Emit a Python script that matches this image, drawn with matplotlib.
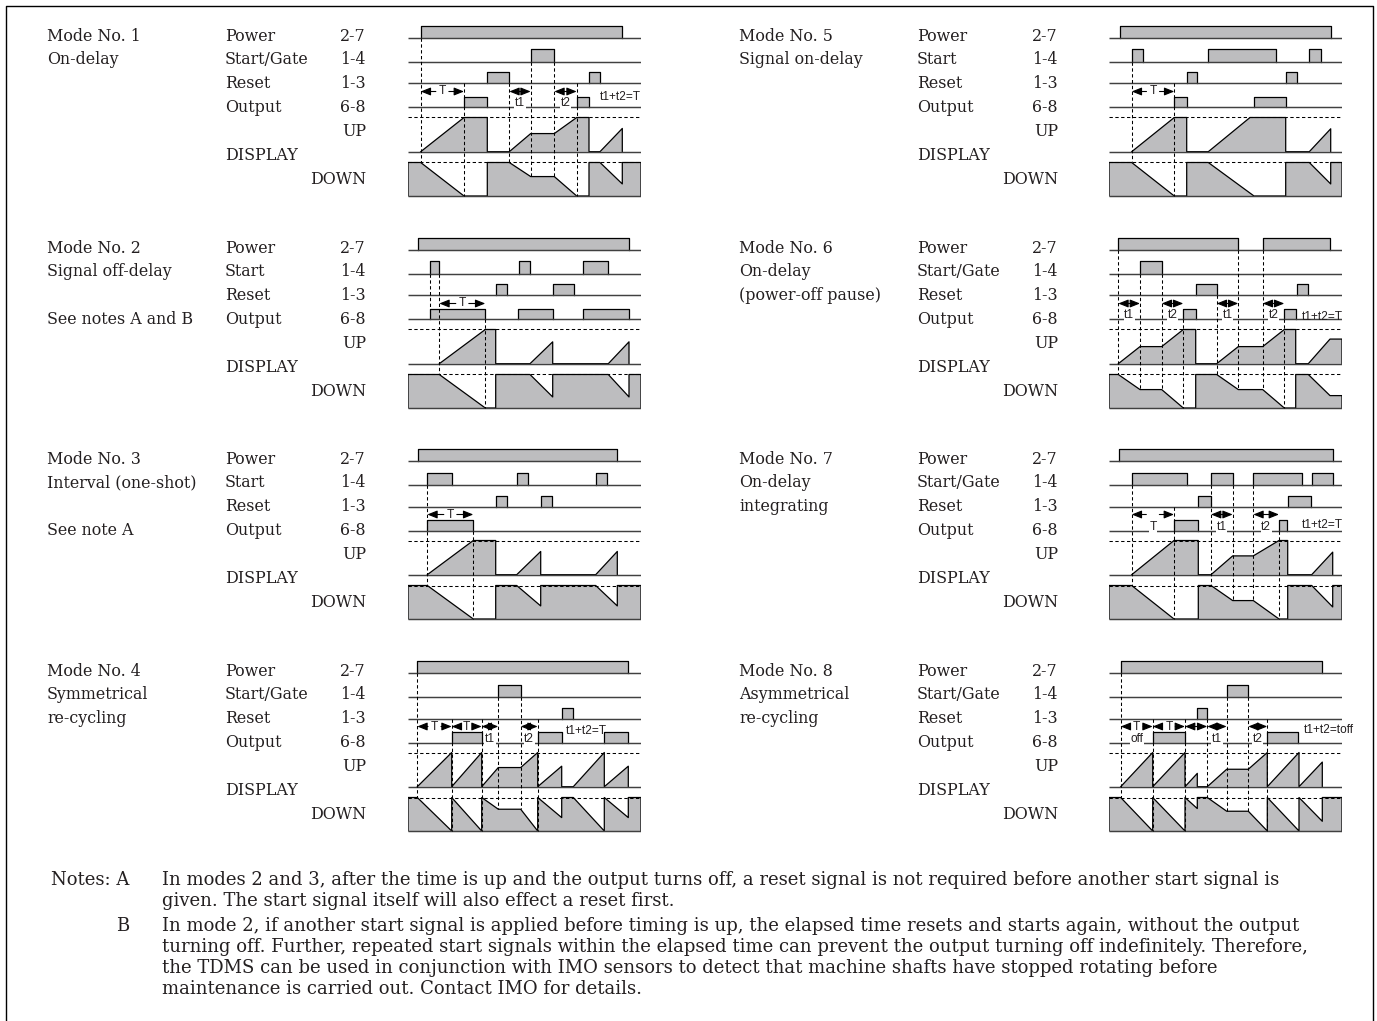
import matplotlib
matplotlib.use("Agg")
import matplotlib.pyplot as plt
import numpy as np

# ---------------- DATA (time axis = panel units, levels 0..1) ----------------
mode_titles = [
    ["Mode No. 1", "On-delay"],
    ["Mode No. 2", "Signal off-delay", "", "See notes A and B"],
    ["Mode No. 3", "Interval (one-shot)", "", "See note A"],
    ["Mode No. 4", "Symmetrical", "re-cycling"],
    ["Mode No. 5", "Signal on-delay"],
    ["Mode No. 6", "On-delay", "(power-off pause)"],
    ["Mode No. 7", "On-delay", "integrating"],
    ["Mode No. 8", "Asymmetrical", "re-cycling"],
]
start_names = ["Start/Gate", "Start", "Start", "Start/Gate",
               "Start", "Start/Gate", "Start/Gate", "Start/Gate"]
terminal_names = ["2-7", "1-4", "1-3", "6-8"]

power_pulses = [
    [(12.7, 214.3)],
    [(10.3, 221)],
    [(10.3, 209.3)],
    [(9.3, 220.3)],
    [(11, 221.7)],
    [(9.3, 129.3), (153.7, 221)],
    [(10.3, 223.7)],
    [(11.7, 213.3)],
]
start_pulses = [
    [(122.7, 146.3)],
    [(22, 31.3), (111, 122), (175.3, 200.3)],
    [(19.3, 43.7), (108.7, 120.3), (187.7, 199.3)],
    [(90.3, 112.7)],
    [(22.7, 34.3), (99.3, 166.7), (200.3, 212)],
    [(31, 52.7)],
    [(22.7, 77.7), (102, 123.7), (144.3, 192.7), (202.7, 223.7)],
    [(117.7, 139.3)],
]
reset_pulses = [
    [(79.3, 101.3), (181, 192)],
    [(87.7, 98.7), (144.7, 166)],
    [(87.7, 98.7), (132.7, 144.3)],
    [(153.7, 165.3)],
    [(77.7, 87.7), (176.7, 188.3)],
    [(86.7, 107.7), (187.7, 199.3)],
    [(89.3, 101.7), (178.7, 201.7)],
    [(88.3, 98.3)],
]
output_pulses = [
    [(56, 79.3), (168.7, 181)],
    [(22, 77.3), (110.3, 144.7), (175.3, 221)],
    [(19.3, 65.3)],
    [(43.7, 73.7), (129.7, 153.7), (196.3, 220.3)],
    [(65.3, 77.7), (145, 176.7)],
    [(74.3, 86.7), (175.3, 186.7)],
    [(65, 89.3), (170, 177.7)],
    [(43.7, 76), (158.3, 189.3)],
]
up_waves = [
    [(12.7, 0), (56, 1), (79.3, 1), (79.3, 0), (101.3, 0), (122.7, 0.53), (146.3, 0.53),
     (168.7, 1), (181, 1), (181, 0), (192, 0), (214.3, 0.68), (214.3, 0)],
    [(31.3, 0), (77.3, 1), (87.7, 1), (87.7, 0), (122, 0), (144.7, 0.64), (144.7, 0),
     (200.3, 0), (221, 0.64), (221, 0)],
    [(19.3, 0), (65.3, 1), (87.7, 1), (87.7, 0), (108.7, 0), (132.7, 0.68), (132.7, 0),
     (187.7, 0), (209.3, 0.68), (209.3, 0)],
    [(9.3, 0), (43.7, 1), (43.7, 0), (73.7, 1), (73.7, 0), (90.3, 0.56), (112.7, 0.56),
     (129.7, 1), (129.7, 0), (153.7, 0.6), (153.7, 0), (165.3, 0), (196.3, 1), (196.3, 0),
     (220.3, 0.6), (220.3, 0)],
    [(22.7, 0), (65.3, 1), (77.7, 1), (77.7, 0), (99.3, 0), (141, 1), (176.7, 1),
     (176.7, 0), (200.3, 0), (221.7, 0.67), (221.7, 0)],
    [(9.3, 0), (31, 0.5), (52.7, 0.5), (74.3, 1), (86.7, 1), (86.7, 0), (107.7, 0),
     (129.3, 0.5), (153.7, 0.5), (175.3, 1), (186.7, 1), (186.7, 0), (199.3, 0),
     (221, 0.72), (233, 0.72)],
    [(22.7, 0), (65, 1), (89.3, 1), (89.3, 0), (102, 0), (123.7, 0.55), (144.3, 0.55),
     (170, 1), (178.7, 1), (178.7, 0), (202.7, 0), (223.7, 0.66), (223.7, 0)],
    [(11.7, 0), (43.7, 1), (43.7, 0), (76, 1), (76, 0), (88.3, 0.39), (88.3, 0),
     (98.3, 0), (117.7, 0.51), (139.3, 0.51), (158.3, 1), (158.3, 0), (190, 1), (190, 0),
     (213.3, 0.72), (213.3, 0)],
]
down_waves = [
    [(0, 1), (12.7, 1), (56, 0), (79.3, 0), (79.3, 1), (101.3, 1), (122.7, 0.58),
     (146.3, 0.58), (168.7, 0), (181, 0), (181, 1), (192, 1), (214.3, 0.36), (214.3, 1),
     (233, 1)],
    [(0, 1), (31.3, 1), (77.3, 0), (87.7, 0), (87.7, 1), (122, 1), (144.7, 0.33),
     (144.7, 1), (200.3, 1), (221, 0.33), (221, 1), (233, 1)],
    [(0, 1), (19.3, 1), (65.3, 0), (87.7, 0), (87.7, 1), (108.7, 1), (132.7, 0.39),
     (132.7, 1), (187.7, 1), (209.3, 0.39), (209.3, 1), (233, 1)],
    [(0, 1), (9.3, 1), (43.7, 0), (43.7, 1), (73.7, 0), (73.7, 1), (90.3, 0.65),
     (112.7, 0.65), (129.7, 0), (129.7, 1), (153.7, 0.4), (153.7, 1), (165.3, 1),
     (196.3, 0), (196.3, 1), (220.3, 0.4), (220.3, 1), (233, 1)],
    [(0, 1), (22.7, 1), (65.3, 0), (77.7, 0), (77.7, 1), (99.3, 1), (145, 0), (176.7, 0),
     (176.7, 1), (200.3, 1), (221.7, 0.36), (221.7, 1), (233, 1)],
    [(0, 1), (9.3, 1), (31, 0.55), (52.7, 0.55), (74.3, 0), (86.7, 0), (86.7, 1),
     (107.7, 1), (129.3, 0.55), (153.7, 0.55), (175.3, 0), (186.7, 0), (186.7, 1),
     (199.3, 1), (221, 0.37), (233, 0.37)],
    [(0, 1), (22.7, 1), (65, 0), (89.3, 0), (89.3, 1), (102, 1), (123.7, 0.55),
     (144.3, 0.55), (170, 0), (178.7, 0), (178.7, 1), (202.7, 1), (223.7, 0.36),
     (223.7, 1), (233, 1)],
    [(0, 1), (11.7, 1), (43.7, 0), (43.7, 1), (76, 0), (76, 1), (88.3, 0.67), (88.3, 1),
     (98.3, 1), (117.7, 0.59), (139.3, 0.59), (158.3, 0), (158.3, 1), (190, 0), (190, 1),
     (213.3, 0.29), (213.3, 1), (233, 1)],
]
# dashed guide lines: (time, from-row, to)
guides = [
    [(12.7, "power", "dtop"), (56, "reset", "dbot"), (101.3, "reset", "dtop"),
     (122.7, "start", "dwave"), (146.3, "start", "dwave"), (168.7, "reset", "dbot")],
    [(22, "start", "otop"), (31.3, "start", "dtop"), (77.3, "output", "dbot")],
    [(19.3, "start", "dtop"), (65.3, "output", "dbot")],
    [(9.3, "power", "dtop"), (43.7, "reset", "dbot"), (73.7, "reset", "dbot"),
     (90.3, "start", "dwave"), (112.7, "start", "dwave"), (129.7, "reset", "dbot")],
    [(22.7, "start", "dtop"), (65.3, "reset", "dbot")],
    [(9.3, "power", "dtop"), (31, "start", "dwave"), (52.7, "start", "dwave"),
     (74.3, "output", "dbot"), (107.7, "reset", "dtop"), (129.3, "power", "dwave"),
     (153.7, "power", "dwave"), (175.3, "output", "dbot")],
    [(22.7, "start", "dtop"), (65, "reset", "dbot"), (102, "start", "dtop"),
     (123.7, "start", "dwave"), (144.3, "start", "dwave"), (170, "output", "dbot")],
    [(11.7, "power", "dtop"), (43.7, "reset", "dbot"), (76, "reset", "dbot"),
     (98.3, "reset", "dtop"), (117.7, "start", "dwave"), (139.3, "start", "dwave"),
     (158.3, "reset", "dbot")],
]
# timing arrows: (t1, t2, inline label, label below)
arrows = [
    [(12.7, 56, "T", None), (101.3, 122.7, None, "t1"), (146.3, 168.7, None, "t2")],
    [(31.3, 77.3, "T", None)],
    [(19.3, 65.3, "T", None)],
    [(9.3, 43.7, "T", None), (43.7, 73.7, "T", None), (73.7, 90.3, None, "t1"),
     (112.7, 129.7, None, "t2")],
    [(22.7, 65.3, "T", None)],
    [(9.3, 31, None, "t1"), (52.7, 74.3, None, "t2"), (107.7, 129.3, None, "t1"),
     (153.7, 175.3, None, "t2")],
    [(22.7, 65, " ", "T"), (102, 123.7, None, "t1"), (144.3, 170, None, "t2")],
    [(11.7, 43.7, "T", "off"), (43.7, 76, "T", None), (76, 98.3, None, None),
     (98.3, 117.7, None, "t1"), (139.3, 158.3, None, "t2")],
]
relation_text = ["t1+t2=T", None, None, "t1+t2=T", None, "t1+t2=T", "t1+t2=T", "t1+t2=toff"]
relation_time = [192, None, None, 157.7, None, 192.7, 192.7, 195]
relation_y = [97, None, None, 96, None, 105, 102, 94.5]

notes_lead = ["Notes: A", "", "B", "", "", ""]
notes_text = [
    "In modes 2 and 3, after the time is up and the output turns off, a reset signal is not required before another start signal is",
    "given. The start signal itself will also effect a reset first.",
    "In mode 2, if another start signal is applied before timing is up, the elapsed time resets and starts again, without the output",
    "turning off. Further, repeated start signals within the elapsed time can prevent the output turning off indefinitely. Therefore,",
    "the TDMS can be used in conjunction with IMO sensors to detect that machine shafts have stopped rotating before",
    "maintenance is carried out. Contact IMO for details.",
]

# ---------------- LAYOUT ----------------
W, H = 1377, 1021
PW = 233
PANEL_X = [408, 1109]
LABEL_DX = [0, 692]
ROW_DY = [0, 212, 423, 635]
ROWS = {"power": (26, 38), "start": (49.5, 62), "reset": (72.5, 83.5), "output": (97, 107.5)}
UP_TOP, UP_BASE = 117.5, 151.7
DN_TOP, DN_BOT = 162.5, 196.0
ARROW_Y, SUB_Y = 91.5, 103.5
Y0, Y1 = 16, 202

FILL = "#bdbdbf"
BASE_C = "#404040"
INK = "#231f20"
SERIF = ["DejaVu Serif"]
SANS = ["Liberation Sans", "DejaVu Sans"]
LBL_FS = 11.4
NOTE_FS = 12.95
SMALL_FS = 8.6

fig = plt.figure(figsize=(W / 100, H / 100), dpi=100)
fig.patch.set_facecolor("white")
bg = fig.add_axes([0, 0, 1, 1])
bg.set_xlim(0, W)
bg.set_ylim(H, 0)
bg.axis("off")

# outer frame
bg.plot([6, 6, 1372.5, 1372.5], [H + 5, 6, 6, H + 5], color="black", lw=1.0)

dash = (0, (3.2, 2.4))


def yl(level, top, base):
    return base - level * (base - top)


for m in range(8):
    col, row = divmod(m, 4)
    x0 = PANEL_X[col]
    oy = ROW_DY[row]
    ax = fig.add_axes([x0 / W, 1 - (oy + Y1) / H, PW / W, (Y1 - Y0) / H])
    ax.set_xlim(0, PW)
    ax.set_ylim(Y1, Y0)
    ax.axis("off")

    # pulses
    for name, pulses in zip(["power", "start", "reset", "output"],
                            [power_pulses[m], start_pulses[m], reset_pulses[m], output_pulses[m]]):
        top, base = ROWS[name]
        for a, b in pulses:
            ax.fill([a, a, b, b], [base, top, top, base], color=FILL, lw=0, zorder=1)
            ax.plot([a, a, b, b], [base, top, top, base], color="black", lw=0.9, zorder=3)
        ax.plot([0, PW], [base, base], color=BASE_C, lw=1.05, zorder=4, solid_capstyle="butt")

    # UP display
    uw = up_waves[m]
    ut = [p[0] for p in uw]
    uy = [yl(p[1], UP_TOP, UP_BASE) for p in uw]
    ax.fill([ut[0]] + ut + [ut[-1]], [UP_BASE] + uy + [UP_BASE], color=FILL, lw=0, zorder=1)
    ax.plot([ut[0]] + ut + [ut[-1]], [UP_BASE] + uy + [UP_BASE], color="black", lw=0.9, zorder=3)
    ax.plot([0, PW], [UP_TOP, UP_TOP], color="black", lw=0.75, ls=dash, zorder=4)
    ax.plot([0, PW], [UP_BASE, UP_BASE], color=BASE_C, lw=1.05, zorder=4, solid_capstyle="butt")

    # DOWN display
    dw = down_waves[m]
    dt = [p[0] for p in dw]
    dy = [yl(p[1], DN_TOP, DN_BOT) for p in dw]
    ax.fill([dt[0]] + dt + [dt[-1]], [DN_BOT] + dy + [DN_BOT], color=FILL, lw=0, zorder=1)
    ax.plot([dt[0]] + dt + [dt[-1]], [DN_BOT] + dy + [DN_BOT], color="black", lw=0.9, zorder=3)
    ax.plot([0, PW], [DN_TOP, DN_TOP], color="black", lw=0.75, ls=dash, zorder=2)
    ax.plot([0, PW], [DN_BOT, DN_BOT], color=BASE_C, lw=1.05, zorder=4, solid_capstyle="butt")

    # guides
    dl_t = np.array(dt)
    dl_v = np.array([p[1] for p in dw])
    for t, frm, to in guides[m]:
        y_from = ROWS[frm][1]
        if to == "dtop":
            y_to = DN_TOP
        elif to == "dbot":
            y_to = DN_BOT
        elif to == "otop":
            y_to = ROWS["output"][0]
        else:
            lev = np.interp(t, dl_t, dl_v)
            y_to = yl(lev, DN_TOP, DN_BOT)
        ax.plot([t, t], [y_from, y_to], color="black", lw=0.75, ls=dash, zorder=5)

    # arrows
    head = dict(arrowstyle="-|>,head_length=0.6,head_width=0.24", color="black", lw=0.8,
                shrinkA=0, shrinkB=0, mutation_scale=10)
    both = dict(arrowstyle="<|-|>,head_length=0.6,head_width=0.24", color="black", lw=0.8,
                shrinkA=0, shrinkB=0, mutation_scale=10)
    for a, b, inl, bel in arrows[m]:
        xm = (a + b) / 2
        if inl:
            g = 6.5
            ax.annotate("", xy=(a, ARROW_Y), xytext=(xm - g, ARROW_Y), arrowprops=head,
                        annotation_clip=False, zorder=6)
            ax.annotate("", xy=(b, ARROW_Y), xytext=(xm + g, ARROW_Y), arrowprops=head,
                        annotation_clip=False, zorder=6)
            if inl.strip():
                ax.text(xm, ARROW_Y, inl, ha="center", va="center", fontsize=SMALL_FS,
                        family=SANS, color=INK, zorder=6)
        else:
            ax.annotate("", xy=(b, ARROW_Y), xytext=(a, ARROW_Y), arrowprops=both,
                        annotation_clip=False, zorder=6)
        if bel:
            ax.text(xm, SUB_Y, bel, ha="center", va="center", fontsize=SMALL_FS,
                    family=SANS, color=INK, zorder=6,
                    bbox=dict(boxstyle="square,pad=0.05", fc="white", ec="none"))
    if relation_text[m]:
        ax.text(relation_time[m], relation_y[m], relation_text[m], ha="left", va="center",
                fontsize=SMALL_FS, family=SANS, color=INK, zorder=6, clip_on=False)

    # labels on the left
    lx = LABEL_DX[col]
    base_y = 40.6 + oy
    step = 23.85
    for k, line in enumerate(mode_titles[m]):
        if line:
            bg.text(47 + lx, base_y + k * step, line, ha="left", va="baseline",
                    fontsize=LBL_FS, family=SERIF, color=INK)
    names = ["Power", start_names[m], "Reset", "Output"]
    for k in range(4):
        bg.text(225 + lx, base_y + k * step, names[k], ha="left", va="baseline",
                fontsize=LBL_FS, family=SERIF, color=INK)
        bg.text(366 + lx, base_y + k * step, terminal_names[k], ha="right", va="baseline",
                fontsize=LBL_FS, family=SERIF, color=INK)
    bg.text(366 + lx, base_y + 4 * step, "UP", ha="right", va="baseline",
            fontsize=LBL_FS, family=SERIF, color=INK)
    bg.text(225 + lx, base_y + 5 * step, "DISPLAY", ha="left", va="baseline",
            fontsize=LBL_FS, family=SERIF, color=INK)
    bg.text(366 + lx, base_y + 6 * step, "DOWN", ha="right", va="baseline",
            fontsize=LBL_FS, family=SERIF, color=INK)

# notes
note_base = [885, 906, 931, 952, 973, 994]
for lead, txt, yb in zip(notes_lead, notes_text, note_base):
    if lead:
        bg.text(129, yb, lead, ha="right", va="baseline",
                fontsize=NOTE_FS, family=SERIF, color=INK)
    bg.text(162, yb, txt, ha="left", va="baseline", fontsize=NOTE_FS, family=SERIF, color=INK)

fig.savefig("out.png", dpi=100, facecolor="white")
